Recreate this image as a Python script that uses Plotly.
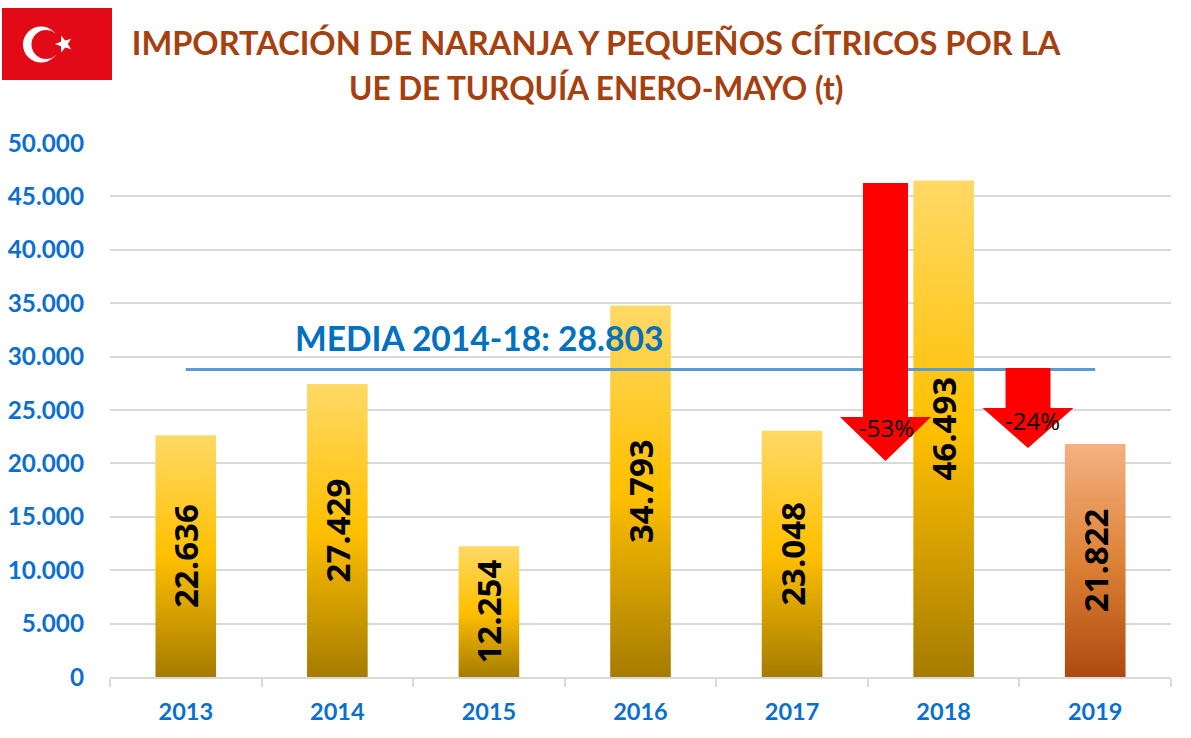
import math
import plotly.graph_objects as go

W, H = 1191, 738
L, R, T, B = 110, 20, 143, 61

years = ["2013", "2014", "2015", "2016", "2017", "2018", "2019"]
imports_t = [22636, 27429, 12254, 34793, 23048, 46493, 21822]
mean_value = 28803
y_ticks = [0, 5000, 10000, 15000, 20000, 25000, 30000, 35000, 40000, 45000, 50000]
title_line_1 = "IMPORTACIÓN DE NARANJA Y PEQUEÑOS CÍTRICOS POR LA"
title_line_2 = "UE DE TURQUÍA ENERO-MAYO (t)"
mean_label = "MEDIA 2014-18: 28.803"


def dotted(v):
    return f"{v:,}".replace(",", ".")


def px(x):
    return (x - L) / (W - L - R)


def py(y):
    return (H - B - y) / (H - T - B)


def poly(pts):
    return "M" + "L".join(f"{px(x):.5f},{py(y):.5f}" for x, y in pts) + "Z"


def arrow(cx, top, shoulder, tip, half_shaft=22.5, half_head=45.5):
    return poly([(cx - half_shaft, top), (cx + half_shaft, top), (cx + half_shaft, shoulder),
                 (cx + half_head, shoulder), (cx, tip), (cx - half_head, shoulder), (cx - half_shaft, shoulder)])


def circle(cx, cy, r, color):
    return dict(type="circle", xref="paper", yref="paper", x0=px(cx - r), x1=px(cx + r),
                y0=py(cy + r), y1=py(cy - r), fillcolor=color, line_width=0, layer="above")


def star(cx, cy, r):
    pts = []
    for i in range(10):
        rad = r if i % 2 == 0 else r * 0.42
        a = math.radians(-180 + i * 36)  # one point faces left, as on the flag
        pts.append((cx + rad * math.cos(a), cy + rad * math.sin(a)))
    return poly(pts)


def note(text, x, y, family, size, color, weight=400):
    return dict(text=text, xref="paper", yref="paper", x=px(x), y=py(y), showarrow=False,
                xanchor="center", yanchor="middle",
                font=dict(family=family, size=size, color=color, weight=weight))


PAPER = dict(xref="paper", yref="paper", layer="above", line_width=0)
shapes = [
    dict(type="path", path=arrow(885.5, 183, 417, 461), fillcolor="#FF0000", **PAPER),
    dict(type="path", path=arrow(1028, 368, 408, 448), fillcolor="#FF0000", **PAPER),
    dict(type="rect", x0=px(2), x1=px(112), y0=py(80), y1=py(8), fillcolor="#E30A17", **PAPER),
    circle(41, 44.5, 18, "#FFFFFF"),
    circle(46, 44.5, 14.5, "#E30A17"),
    dict(type="path", path=star(64, 44, 9), fillcolor="#FFFFFF", **PAPER),
]

fig = go.Figure()
fig.add_bar(
    x=years, y=imports_t, width=0.4,
    marker=dict(color="#FFC000", line_width=0),
    text=[dotted(v) for v in imports_t], textposition="inside", textangle=-90,
    insidetextanchor="middle", constraintext="none",
    textfont=dict(family="Open Sans", size=33, color="#000000", weight=700),
    hoverinfo="x+y",
)
fig.add_scatter(x=years, y=[mean_value] * len(years), mode="lines",
                line=dict(color="#5B9BD5", width=3), hoverinfo="skip")

fig.update_layout(
    width=W, height=H, autosize=False, showlegend=False,
    margin=dict(l=L, r=R, t=T, b=B, pad=0),
    paper_bgcolor="#FFFFFF", plot_bgcolor="#FFFFFF",
    title=dict(text=title_line_1, x=596 / W, xanchor="center", y=1 - 44 / H, yanchor="middle",
               font=dict(family="Lato", size=32.6, color="#A5400F", weight=700)),
    shapes=shapes,
    annotations=[
        note(title_line_2, 596, 88, "Lato", 31.5, "#A5400F", 700),
        note(mean_label, 479, 338, "Lato", 33.6, "#0070C0", 700),
        note("-53%", 886, 427, "Open Sans", 24, "#000000"),
        note("-24%", 1032, 420, "Open Sans", 24, "#000000"),
    ],
    xaxis=dict(type="category", tickson="boundaries", ticks="outside", ticklen=8, tickwidth=2,
               tickcolor="#D9D9D9", showline=True, linecolor="#D9D9D9", linewidth=2,
               showgrid=False, zeroline=False, ticklabelstandoff=13, automargin=False,
               tickfont=dict(family="Lato", size=23.5, color="#0B6FCF", weight=700)),
    yaxis=dict(range=[0, 50000], tickvals=y_ticks, ticktext=[dotted(v) for v in y_ticks],
               showgrid=True, gridcolor="#D9D9D9", gridwidth=2, zeroline=False,
               ticks="", ticklabelstandoff=25, showline=False, automargin=False,
               tickfont=dict(family="Lato", size=24.3, color="#0B6FCF", weight=700)),
)

post = """
document.body.style.margin = '0';
var svg = document.querySelector('.main-svg');
var NS = 'http://www.w3.org/2000/svg';
var defs = svg.querySelector('defs');
function grad(id, stops) {
  var g = document.createElementNS(NS, 'linearGradient');
  g.id = id; g.setAttribute('x1', '0'); g.setAttribute('y1', '0');
  g.setAttribute('x2', '0'); g.setAttribute('y2', '1');
  stops.forEach(function (s) {
    var st = document.createElementNS(NS, 'stop');
    st.setAttribute('offset', s[0]); st.setAttribute('stop-color', s[1]);
    g.appendChild(st);
  });
  defs.appendChild(g);
}
grad('goldBar', [[0, '#FFD966'], [0.5, '#FFC000'], [1, '#A67C00']]);
grad('copperBar', [[0, '#F4B183'], [0.5, '#DD8236'], [1, '#AE4A10']]);
var bars = document.querySelectorAll('.barlayer .point path');
bars.forEach(function (p, i) {
  p.style.fill = 'url(#' + (i === bars.length - 1 ? 'copperBar' : 'goldBar') + ')';
});
"""
fig.write_html("out.html", post_script=post, config=dict(displayModeBar=False))
